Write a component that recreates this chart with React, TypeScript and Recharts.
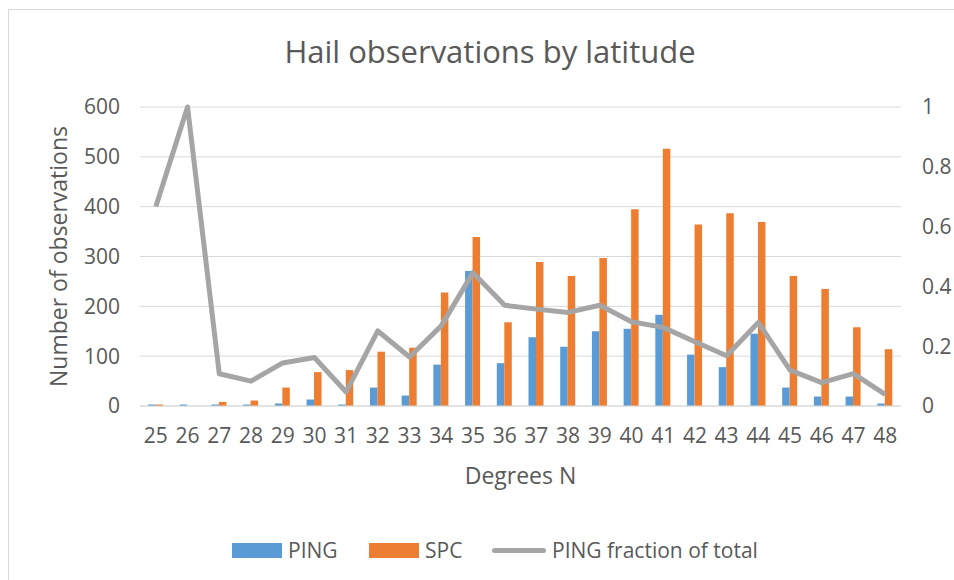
import { ComposedChart, Bar, Line, XAxis, YAxis, CartesianGrid } from 'recharts';

const latitudes = ['25', '26', '27', '28', '29', '30', '31', '32', '33', '34', '35', '36', '37', '38', '39', '40', '41', '42', '43', '44', '45', '46', '47', '48'];
const pingCounts = [3, 3, 3, 3, 5, 13, 3, 37, 21, 83, 271, 86, 138, 119, 150, 155, 183, 103, 78, 145, 37, 19, 19, 5];
const spcCounts = [3, 0, 8, 11, 37, 68, 72, 109, 117, 228, 339, 168, 289, 261, 297, 395, 516, 364, 387, 369, 261, 235, 158, 114];
const pingFraction = [0.667, 1.0, 0.108, 0.083, 0.144, 0.162, 0.047, 0.251, 0.164, 0.268, 0.446, 0.337, 0.324, 0.313, 0.337, 0.282, 0.263, 0.215, 0.168, 0.279, 0.12, 0.078, 0.108, 0.039];
const countTicks = [0, 100, 200, 300, 400, 500, 600];
const fractionTicks = [0, 0.2, 0.4, 0.6, 0.8, 1];

const PING_COLOR = '#5B9BD5';
const SPC_COLOR = '#ED7D31';
const LINE_COLOR = '#A5A5A5';
const TEXT_COLOR = '#595959';
const FONT = '"Open Sans", "Noto Sans", sans-serif';

const rows = latitudes.map((lat, i) => ({
  lat,
  ping: pingCounts[i],
  spc: spcCounts[i],
  fraction: pingFraction[i],
}));

const tickStyle = { fill: TEXT_COLOR, fontSize: 21, fontFamily: FONT };

const LegendEntry = ({ left, label, kind, color }: { left: number; label: string; kind: 'box' | 'line'; color: string }) => (
  <div style={{ position: 'absolute', left, top: 538, height: 24, display: 'flex', alignItems: 'center' }}>
    {kind === 'box' ? (
      <div style={{ width: 50, height: 15, background: color }} />
    ) : (
      <div style={{ width: 54, height: 5, borderRadius: 3, background: color }} />
    )}
    <span style={{ marginLeft: 6, fontSize: 21, color: TEXT_COLOR, fontFamily: FONT, lineHeight: '24px' }}>{label}</span>
  </div>
);

export default function App() {
  return (
    <div style={{ position: 'absolute', left: 0, top: 0, width: 954, height: 580, background: '#fff', overflow: 'hidden' }}>
      <div style={{ position: 'absolute', left: 8, top: 9, width: 960, height: 600, borderLeft: '1px solid #D9D9D9', borderTop: '1px solid #D9D9D9' }} />
      <div style={{ position: 'absolute', left: 0, top: 30, width: 980, textAlign: 'center', fontSize: 31, color: TEXT_COLOR, fontFamily: FONT }}>
        Hail observations by latitude
      </div>
      <ComposedChart
        width={954}
        height={580}
        data={rows}
        margin={{ top: 107, right: 0, bottom: 96, left: 0 }}
        barGap={0}
        style={{ position: 'absolute', left: 0, top: 0 }}
      >
        <CartesianGrid yAxisId="left" vertical={false} stroke="#D9D9D9" />
        <XAxis
          dataKey="lat"
          height={78}
          tickLine={false}
          tickMargin={16}
          axisLine={{ stroke: '#D9D9D9' }}
          tick={tickStyle}
          interval={0}
          label={{ value: 'Degrees N', position: 'insideBottom', offset: 0, fill: TEXT_COLOR, fontSize: 23, fontFamily: FONT }}
        />
        <YAxis
          yAxisId="left"
          width={140}
          domain={[0, 600]}
          ticks={countTicks}
          tickLine={false}
          axisLine={false}
          tickMargin={14}
          tick={tickStyle}
          label={{ value: 'Number of observations', angle: -90, position: 'insideLeft', offset: 59, fill: TEXT_COLOR, fontSize: 23, fontFamily: FONT, style: { textAnchor: 'middle' } }}
        />
        <YAxis
          yAxisId="right"
          orientation="right"
          width={53}
          domain={[0, 1]}
          ticks={fractionTicks}
          tickLine={false}
          axisLine={false}
          tickMargin={15}
          tick={{ ...tickStyle, textAnchor: 'start' }}
        />
        <Bar yAxisId="left" dataKey="ping" name="PING" fill={PING_COLOR} barSize={7.5} isAnimationActive={false} />
        <Bar yAxisId="left" dataKey="spc" name="SPC" fill={SPC_COLOR} barSize={7.5} isAnimationActive={false} />
        <Line
          yAxisId="right"
          dataKey="fraction"
          name="PING fraction of total"
          stroke={LINE_COLOR}
          strokeWidth={5}
          strokeLinejoin="round"
          dot={false}
          activeDot={false}
          isAnimationActive={false}
        />
      </ComposedChart>
      <LegendEntry left={232} label="PING" kind="box" color={PING_COLOR} />
      <LegendEntry left={369} label="SPC" kind="box" color={SPC_COLOR} />
      <LegendEntry left={492} label="PING fraction of total" kind="line" color={LINE_COLOR} />
    </div>
  );
}
